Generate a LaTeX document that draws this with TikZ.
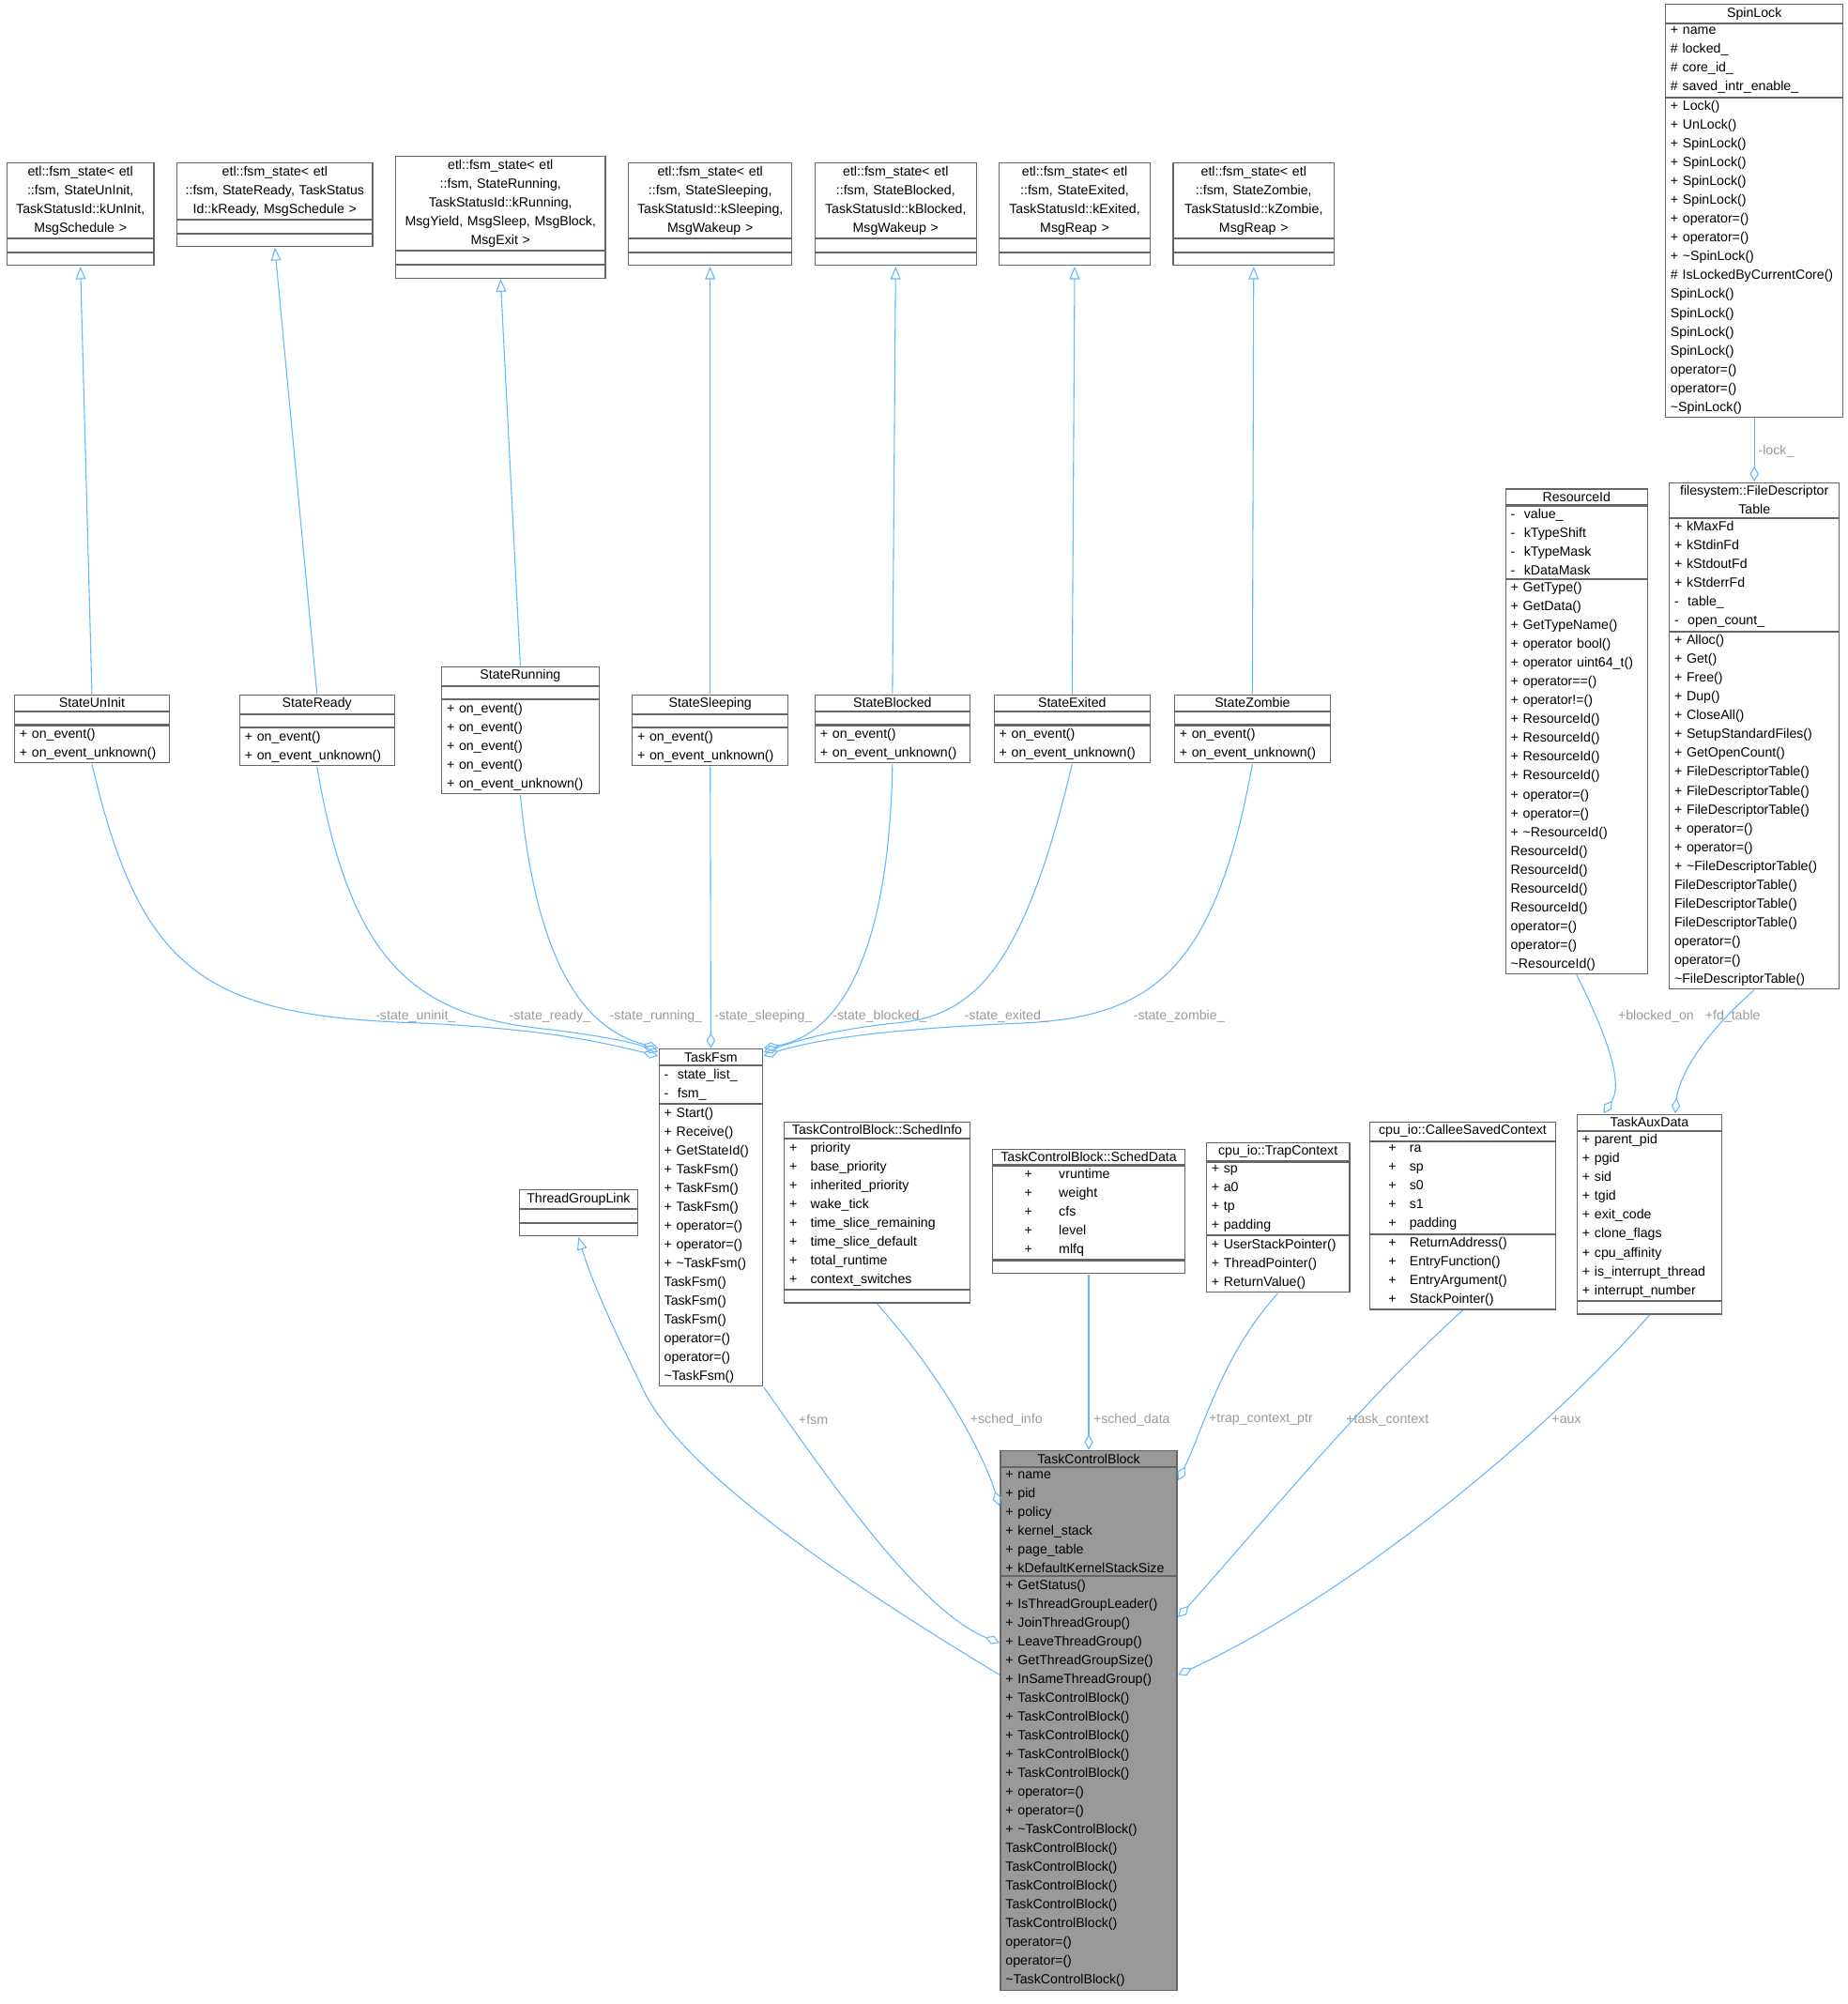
\documentclass[tikz,border=0pt]{standalone}
\usepackage{fontspec}
\setmainfont{Liberation Sans}
\usetikzlibrary{arrows.meta,fit}
\definecolor{edgeblue}{HTML}{63B8FF}
\definecolor{boxline}{HTML}{666666}
\definecolor{mainfill}{HTML}{999999}
\definecolor{lblgray}{HTML}{9A9A9A}
\tikzset{
  part/.style={draw=boxline,rectangle,inner xsep=2pt,inner ysep=1.2pt,minimum height=5pt,
    font=\fontsize{5.2}{7.35}\selectfont},
  inh/.style={edgeblue,thin,-{Triangle[open,length=5pt,width=4pt]}},
  agg/.style={edgeblue,thin,-{Diamond[open,length=6pt,width=3.5pt]}},
  lbl/.style={text=lblgray,font=\fontsize{5.2}{6}\selectfont}
}
\newcommand\dt{\textasciitilde}
% class box: [options]{name}{left}{top}{right}{title}{attributes}{methods}
\newcommand\umlclass[8][]{%
  \pgfmathsetmacro\clstw{(#5-#3)*0.5-4}%
  \node[part,align=center,text width=\clstw pt,anchor=north west,#1] (#2-t) at (#3,#4) {#6};
  \node[part,align=left,text width=\clstw pt,anchor=north west,#1] (#2-a) at (#2-t.south west) {#7};
  \node[part,align=left,text width=\clstw pt,anchor=north west,#1] (#2-m) at (#2-a.south west) {#8};
  \node[fit=(#2-t)(#2-m),inner sep=0pt] (#2) {};
}
\begin{document}
\begin{tikzpicture}[x=0.5pt,y=-0.5pt]
\useasboundingbox (0,0) rectangle (1445,1567);
% fsm_state base classes
\umlclass{etluninit}{5}{127}{120}{etl::fsm\_state< etl\\::fsm, StateUnInit,\\TaskStatusId::kUnInit,\\MsgSchedule >}{}{}
\umlclass{etlready}{138}{127}{291}{etl::fsm\_state< etl\\::fsm, StateReady, TaskStatus\\Id::kReady, MsgSchedule >}{}{}
\umlclass{etlrunning}{309}{122}{473}{etl::fsm\_state< etl\\::fsm, StateRunning,\\TaskStatusId::kRunning,\\MsgYield, MsgSleep, MsgBlock,\\MsgExit >}{}{}
\umlclass{etlsleeping}{491}{127}{619}{etl::fsm\_state< etl\\::fsm, StateSleeping,\\TaskStatusId::kSleeping,\\MsgWakeup >}{}{}
\umlclass{etlblocked}{637}{127}{763}{etl::fsm\_state< etl\\::fsm, StateBlocked,\\TaskStatusId::kBlocked,\\MsgWakeup >}{}{}
\umlclass{etlexited}{781}{127}{899}{etl::fsm\_state< etl\\::fsm, StateExited,\\TaskStatusId::kExited,\\MsgReap >}{}{}
\umlclass{etlzombie}{917}{127}{1043}{etl::fsm\_state< etl\\::fsm, StateZombie,\\TaskStatusId::kZombie,\\MsgReap >}{}{}
% states
\umlclass{suninit}{11}{543}{132}{StateUnInit}{}{+ on\_event()\\+ on\_event\_unknown()}
\umlclass{sready}{187}{543}{308}{StateReady}{}{+ on\_event()\\+ on\_event\_unknown()}
\umlclass{srunning}{345}{521}{468}{StateRunning}{}{+ on\_event()\\+ on\_event()\\+ on\_event()\\+ on\_event()\\+ on\_event\_unknown()}
\umlclass{ssleeping}{494}{543}{616}{StateSleeping}{}{+ on\_event()\\+ on\_event\_unknown()}
\umlclass{sblocked}{637}{543}{758}{StateBlocked}{}{+ on\_event()\\+ on\_event\_unknown()}
\umlclass{sexited}{777}{543}{899}{StateExited}{}{+ on\_event()\\+ on\_event\_unknown()}
\umlclass{szombie}{918}{543}{1040}{StateZombie}{}{+ on\_event()\\+ on\_event\_unknown()}
% right column
\umlclass{spinlock}{1302}{3}{1441}{SpinLock}{+ name\\\# locked\_\\\# core\_id\_\\\# saved\_intr\_enable\_}
  {+ Lock()\\+ UnLock()\\+ SpinLock()\\+ SpinLock()\\+ SpinLock()\\+ SpinLock()\\+ operator=()\\+ operator=()\\+ \dt SpinLock()\\\# IsLockedByCurrentCore()\\* SpinLock()\\* SpinLock()\\* SpinLock()\\* SpinLock()\\* operator=()\\* operator=()\\* \dt SpinLock()}
\umlclass{resid}{1177}{382}{1288}{ResourceId}{-\ \ value\_\\-\ \ kTypeShift\\-\ \ kTypeMask\\-\ \ kDataMask}
  {+ GetType()\\+ GetData()\\+ GetTypeName()\\+ operator bool()\\+ operator uint64\_t()\\+ operator==()\\+ operator!=()\\+ ResourceId()\\+ ResourceId()\\+ ResourceId()\\+ ResourceId()\\+ operator=()\\+ operator=()\\+ \dt ResourceId()\\* ResourceId()\\* ResourceId()\\* ResourceId()\\* ResourceId()\\* operator=()\\* operator=()\\* \dt ResourceId()}
\umlclass{fdtable}{1305}{377}{1438}{filesystem::FileDescriptor\\Table}{+ kMaxFd\\+ kStdinFd\\+ kStdoutFd\\+ kStderrFd\\-\ \ table\_\\-\ \ open\_count\_}
  {+ Alloc()\\+ Get()\\+ Free()\\+ Dup()\\+ CloseAll()\\+ SetupStandardFiles()\\+ GetOpenCount()\\+ FileDescriptorTable()\\+ FileDescriptorTable()\\+ FileDescriptorTable()\\+ operator=()\\+ operator=()\\+ \dt FileDescriptorTable()\\* FileDescriptorTable()\\* FileDescriptorTable()\\* FileDescriptorTable()\\* operator=()\\* operator=()\\* \dt FileDescriptorTable()}
% members of TaskControlBlock
\umlclass{fsm}{515}{820}{596}{TaskFsm}{-\ \ state\_list\_\\-\ \ fsm\_}
  {+ Start()\\+ Receive()\\+ GetStateId()\\+ TaskFsm()\\+ TaskFsm()\\+ TaskFsm()\\+ operator=()\\+ operator=()\\+ \dt TaskFsm()\\* TaskFsm()\\* TaskFsm()\\* TaskFsm()\\* operator=()\\* operator=()\\* \dt TaskFsm()}
\umlclass{tglink}{406}{930}{498}{ThreadGroupLink}{}{}
\umlclass{schedinfo}{613}{877}{758}{TaskControlBlock::SchedInfo}{+\quad priority\\+\quad base\_priority\\+\quad inherited\_priority\\+\quad wake\_tick\\+\quad time\_slice\_remaining\\+\quad time\_slice\_default\\+\quad total\_runtime\\+\quad context\_switches}{}
\umlclass{scheddata}{776}{898}{926}{TaskControlBlock::SchedData}{\qquad+\qquad vruntime\\\qquad+\qquad weight\\\qquad+\qquad cfs\\\qquad+\qquad level\\\qquad+\qquad mlfq}{}
\umlclass{trapctx}{943}{893}{1055}{cpu\_io::TrapContext}{+ sp\\+ a0\\+ tp\\+ padding}{+ UserStackPointer()\\+ ThreadPointer()\\+ ReturnValue()}
\umlclass{calleectx}{1071}{877}{1216}{cpu\_io::CalleeSavedContext}{\quad+\quad ra\\\quad+\quad sp\\\quad+\quad s0\\\quad+\quad s1\\\quad+\quad padding}{\quad+\quad ReturnAddress()\\\quad+\quad EntryFunction()\\\quad+\quad EntryArgument()\\\quad+\quad StackPointer()}
\umlclass{auxdata}{1233}{871}{1346}{TaskAuxData}{+ parent\_pid\\+ pgid\\+ sid\\+ tgid\\+ exit\_code\\+ clone\_flags\\+ cpu\_affinity\\+ is\_interrupt\_thread\\+ interrupt\_number}{}
\umlclass[fill=mainfill]{tcb}{782}{1134}{920}{TaskControlBlock}{+ name\\+ pid\\+ policy\\+ kernel\_stack\\+ page\_table\\+ kDefaultKernelStackSize}
  {+ GetStatus()\\+ IsThreadGroupLeader()\\+ JoinThreadGroup()\\+ LeaveThreadGroup()\\+ GetThreadGroupSize()\\+ InSameThreadGroup()\\+ TaskControlBlock()\\+ TaskControlBlock()\\+ TaskControlBlock()\\+ TaskControlBlock()\\+ TaskControlBlock()\\+ operator=()\\+ operator=()\\+ \dt TaskControlBlock()\\* TaskControlBlock()\\* TaskControlBlock()\\* TaskControlBlock()\\* TaskControlBlock()\\* TaskControlBlock()\\* operator=()\\* operator=()\\* \dt TaskControlBlock()}
% inheritance
\draw[inh] (suninit.north) -- (etluninit.south);
\draw[inh] (sready.north) -- (etlready.south);
\draw[inh] (srunning.north) -- (etlrunning.south);
\draw[inh] (ssleeping.north) -- (etlsleeping.south);
\draw[inh] (sblocked.north) -- (etlblocked.south);
\draw[inh] (sexited.north) -- (etlexited.south);
\draw[inh] (szombie.north) -- (etlzombie.south);
\draw[inh] ([yshift=-88pt]tcb.north west) .. controls (600,1200) and (520,1130) .. (500,1080)
  .. controls (480,1040) and (462,1000) .. (tglink.south);
% states owned by TaskFsm
\draw[agg] (suninit.south) .. controls (110,760) and (160,795) .. (330,800) .. controls (430,805) and (470,815) .. ([yshift=-3pt]fsm.north west);
\draw[agg] (sready.south) .. controls (275,760) and (330,795) .. (430,805) .. controls (470,810) and (495,815) .. ([yshift=-1.5pt]fsm.north west);
\draw[agg] (srunning.south) .. controls (420,760) and (460,805) .. (fsm.north west);
\draw[agg] (ssleeping.south) -- (fsm.north);
\draw[agg] (sblocked.south) .. controls (695,760) and (650,810) .. (fsm.north east);
\draw[agg] (sexited.south) .. controls (800,760) and (760,795) .. (700,800) .. controls (650,805) and (620,815) .. ([yshift=-1.5pt]fsm.north east);
\draw[agg] (szombie.south) .. controls (950,760) and (900,795) .. (800,800) .. controls (680,805) and (630,815) .. ([yshift=-3pt]fsm.north east);
\node[lbl] at (325,795) {-state\_uninit\_};
\node[lbl] at (430,795) {-state\_ready\_};
\node[lbl] at (513,795) {-state\_running\_};
\node[lbl] at (597,795) {-state\_sleeping\_};
\node[lbl] at (688,795) {-state\_blocked\_};
\node[lbl] at (787,795) {-state\_exited\_};
\node[lbl] at (922,795) {-state\_zombie\_};
% members of TaskControlBlock
\draw[agg] (fsm.south east) .. controls (650,1160) and (720,1260) .. ([yshift=-75.5pt]tcb.north west);
\draw[agg] (schedinfo.south) .. controls (740,1080) and (770,1140) .. ([yshift=-22pt]tcb.north west);
\draw[agg] (scheddata.south) -- (tcb.north);
\draw[agg] (trapctx.south) .. controls (955,1060) and (940,1120) .. ([yshift=-12pt]tcb.north east);
\draw[agg] (calleectx.south) .. controls (1060,1100) and (980,1200) .. ([yshift=-65.5pt]tcb.north east);
\draw[agg] (auxdata.south) .. controls (1200,1130) and (1050,1250) .. ([yshift=-88pt]tcb.north east);
\node[lbl] at (636,1110) {+fsm};
\node[lbl] at (787,1110) {+sched\_info};
\node[lbl] at (885,1110) {+sched\_data};
\node[lbl] at (986,1110) {+trap\_context\_ptr};
\node[lbl] at (1085,1110) {+task\_context};
\node[lbl] at (1225,1110) {+aux};
% right column links
\draw[agg] (spinlock.south) -- (fdtable.north);
\draw[agg] (resid.south) .. controls (1262,820) and (1268,850) .. ([xshift=-18pt]auxdata.north);
\draw[agg] (fdtable.south) .. controls (1320,820) and (1312,850) .. ([xshift=10pt]auxdata.north);
\node[lbl] at (1389,353) {-lock\_};
\node[lbl] at (1295,795) {+blocked\_on};
\node[lbl] at (1355,795) {+fd\_table};
\end{tikzpicture}
\end{document}
